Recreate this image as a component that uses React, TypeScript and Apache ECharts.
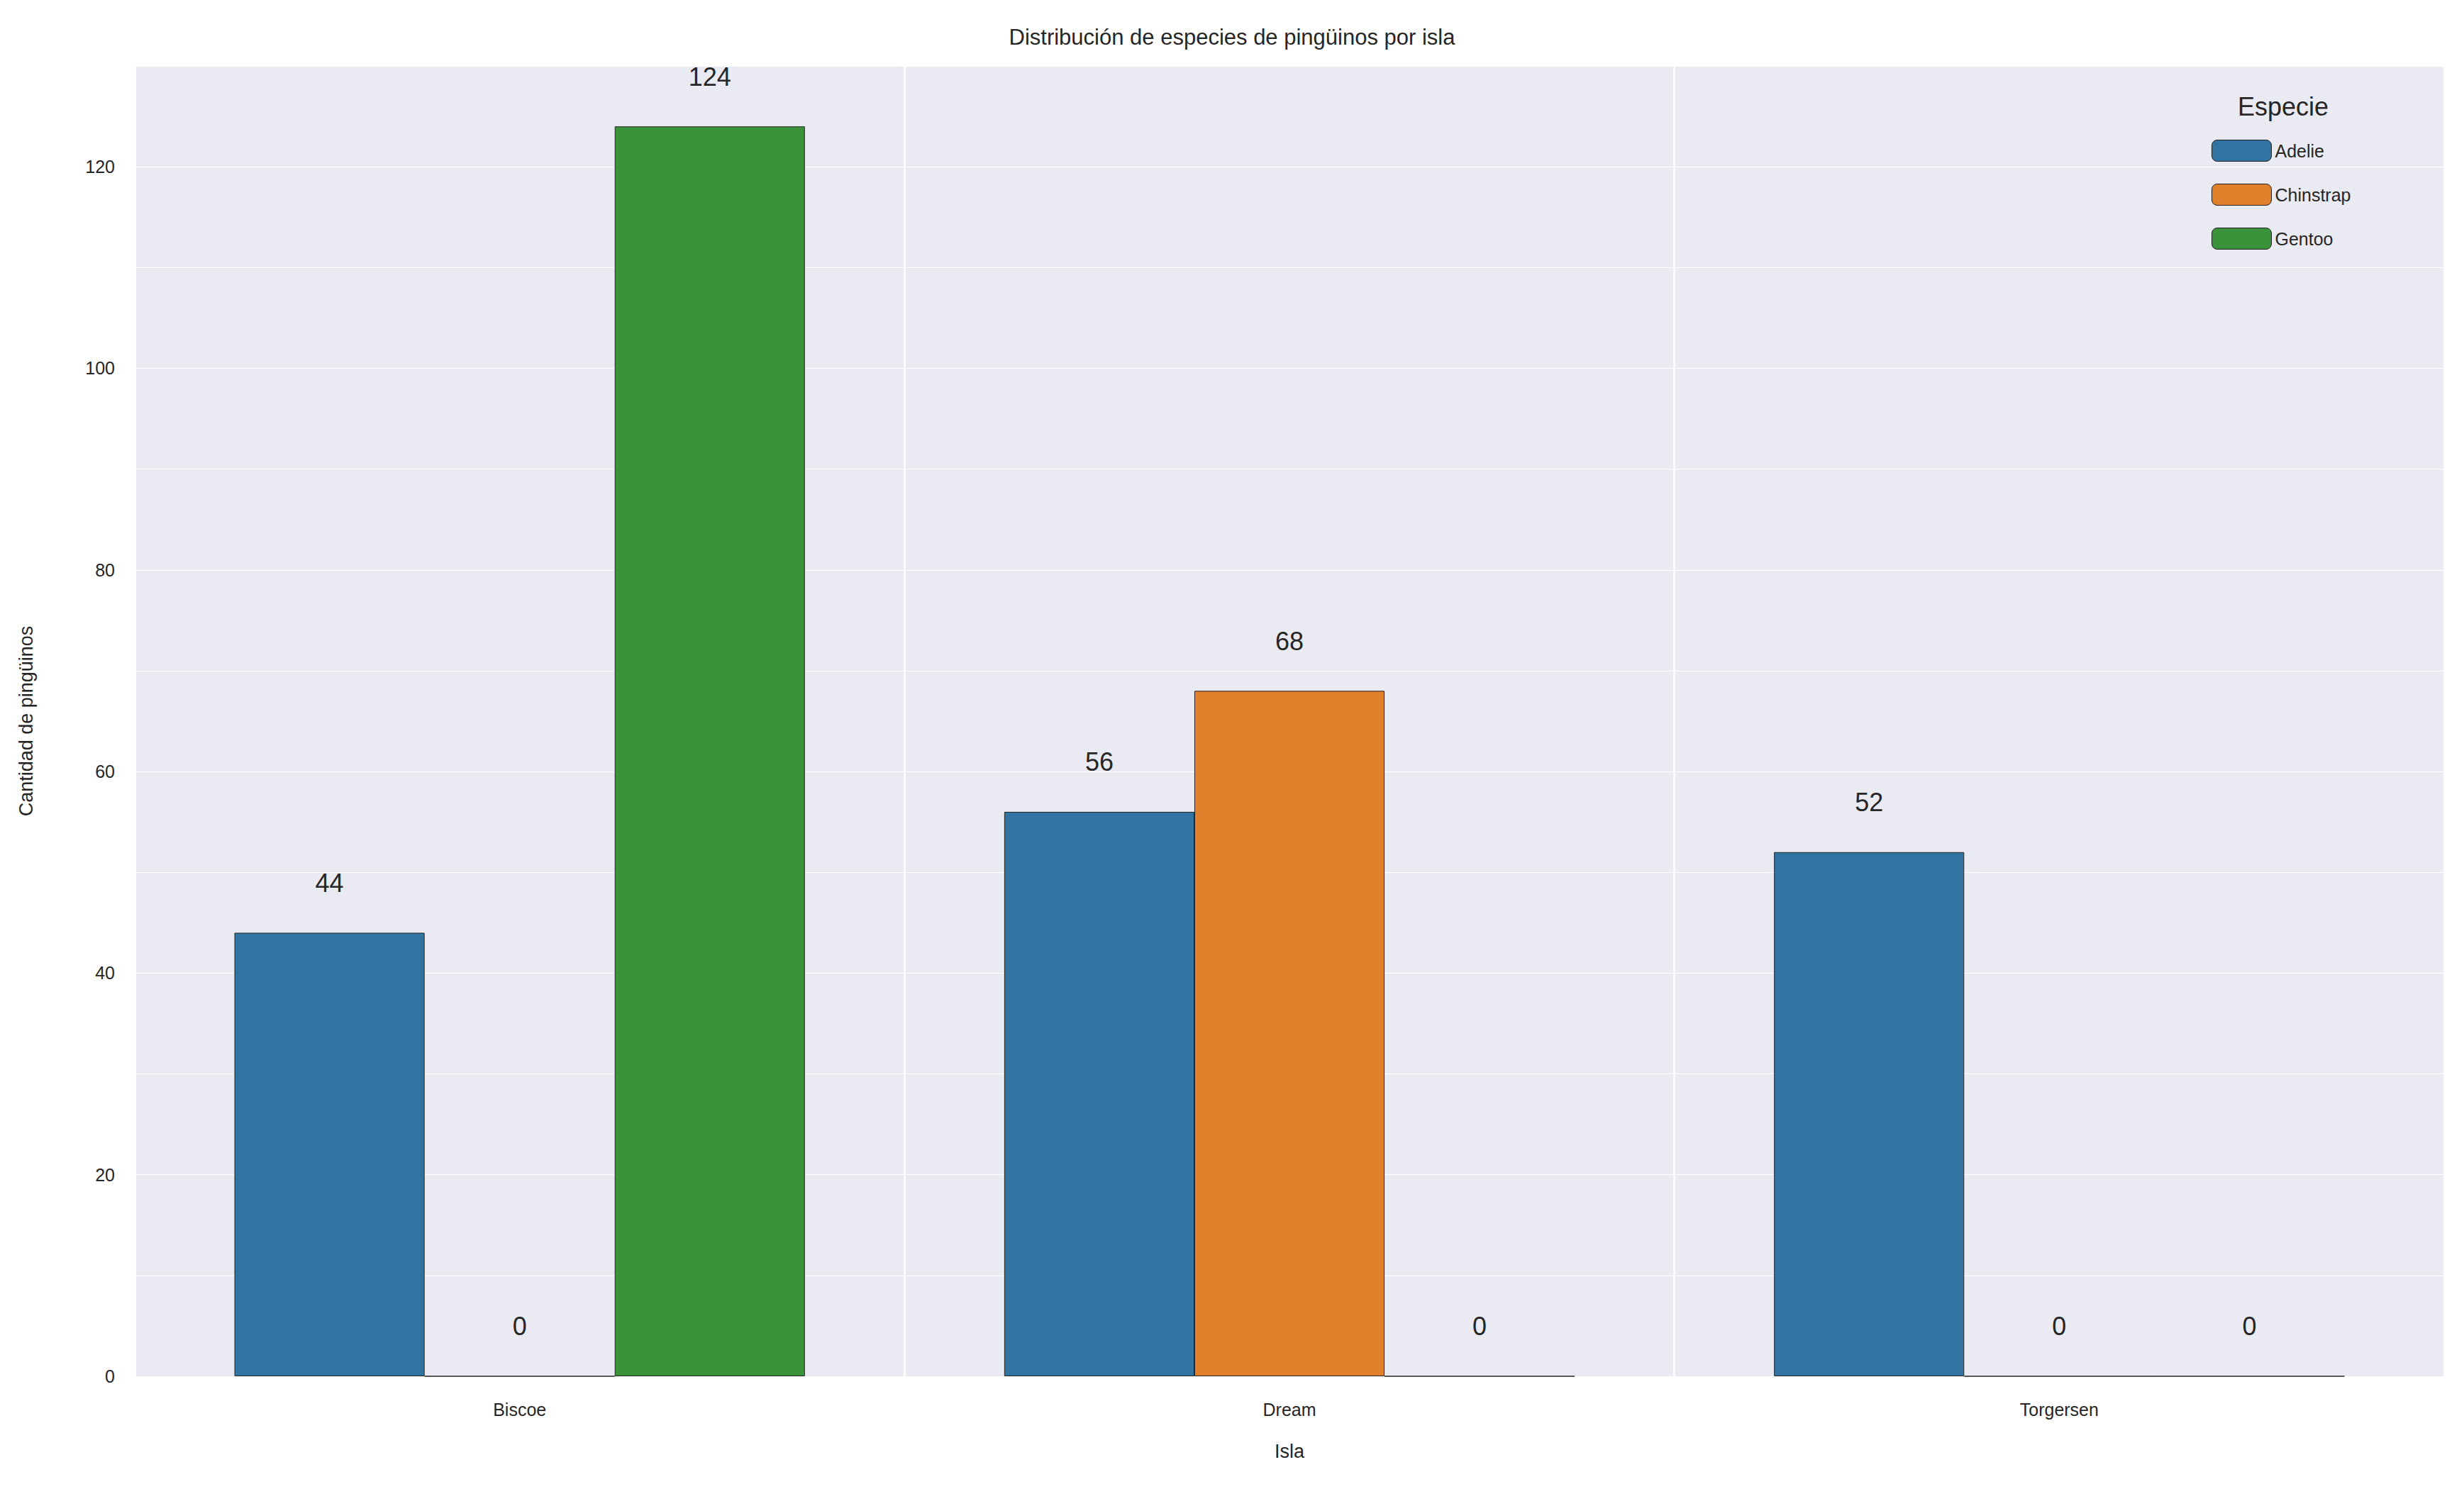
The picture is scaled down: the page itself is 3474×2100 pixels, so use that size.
import { useEffect, useRef } from "react";
import * as echarts from "echarts";

const islands = ["Biscoe", "Dream", "Torgersen"];
const species = ["Adelie", "Chinstrap", "Gentoo"];
const adelie = [44, 56, 52];
const chinstrap = [0, 68, 0];
const gentoo = [124, 0, 0];
const colors = ["#3274A1", "#E1812C", "#3A923A"];

export default function App() {
  const ref = useRef<HTMLDivElement | null>(null);

  useEffect(() => {
    document.body.style.margin = "0";
    if (!ref.current) return;
    const chart = echarts.init(ref.current, undefined, { renderer: "svg" });
    const font = "'Liberation Sans', 'DejaVu Sans', sans-serif";
    const values = [adelie, chinstrap, gentoo];
    chart.setOption({
      animation: false,
      textStyle: { fontFamily: font },
      title: {
        text: "Distribución de especies de pingüinos por isla",
        left: "center",
        top: 32,
        textStyle: { fontSize: 31, fontWeight: "normal", color: "#262626", fontFamily: font },
      },
      grid: { left: 190, right: 28, top: 93, bottom: 159, backgroundColor: "#EAEAF2", show: true, borderWidth: 0 },
      legend: {
        data: species,
        orient: "vertical",
        left: 3113,
        top: 192,
        itemWidth: 84,
        itemHeight: 30,
        itemGap: 31,
        textStyle: { fontSize: 25, color: "#262626", fontFamily: font },
        itemStyle: { borderColor: "#222", borderWidth: 1 },
      },
      graphic: [
        {
          type: "text",
          left: 3155,
          top: 132,
          style: { text: "Especie", fontSize: 36, fill: "#262626", fontFamily: font },
        },
      ],
      xAxis: {
        type: "category",
        data: islands,
        name: "Isla",
        nameLocation: "middle",
        nameGap: 92,
        nameTextStyle: { fontSize: 27, color: "#262626" },
        axisLine: { show: false },
        axisTick: { show: false },
        axisLabel: { fontSize: 25, color: "#262626", margin: 34 },
        splitLine: { show: true, lineStyle: { color: "#ffffff", width: 2.5 } },
        splitArea: { show: false },
      },
      yAxis: {
        type: "value",
        min: 0,
        max: 130,
        interval: 10,
        name: "Cantidad de pingüinos",
        nameLocation: "middle",
        nameGap: 140,
        nameTextStyle: { fontSize: 27, color: "#262626" },
        axisLine: { show: false },
        axisTick: { show: false },
        axisLabel: {
          fontSize: 25,
          color: "#262626",
          margin: 28,
          formatter: (v: number) => (v % 20 === 0 ? String(v) : ""),
        },
        splitLine: {
          show: true,
          lineStyle: { color: "#ffffff", width: 1 },
          interval: (i: number) => i % 2 === 0,
        },
      },
      series: species.map((s, i) => ({
        name: s,
        type: "bar",
        data: values[i],
        barWidth: "24.7%",
        barGap: "0%",
        itemStyle: { color: colors[i], borderColor: "#222", borderWidth: 1 },
        label: {
          show: true,
          position: "top",
          distance: 52,
          fontSize: 36,
          color: "#262626",
          fontFamily: font,
        },
      })),
    });
    return () => chart.dispose();
  }, []);

  return <div ref={ref} style={{ width: 3474, height: 2100, background: "#fff" }} />;
}
